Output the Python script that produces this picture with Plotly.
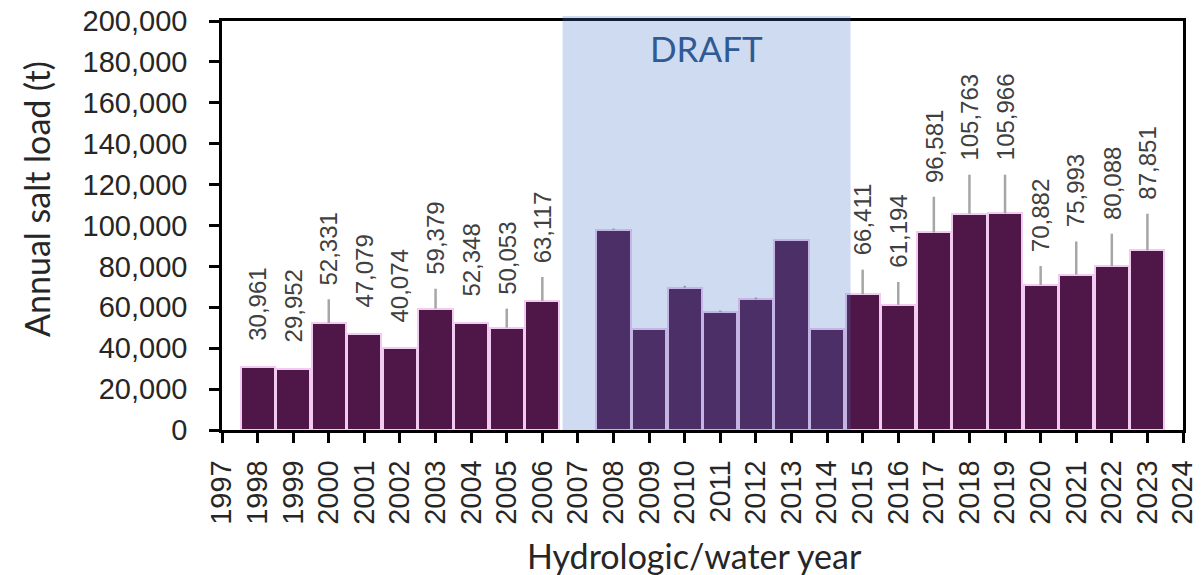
import plotly.graph_objects as go

# ── Data ──────────────────────────────────────────────────────────────────────
years = list(range(1998, 2024))
salt_load = [30961, 29952, 52331, 47079, 40074, 59379, 52348, 50053, 63117, None,
             97900, 49600, 69600, 57600, 63900, 93000, 49600,
             66411, 61194, 96581, 105763, 105966, 70882, 75993, 80088, 87851]
upper_err = [0, 0, 11600, 0, 0, 9700, 0, 9300, 11700, 0,
             600, 0, 900, 800, 900, 0, 0,
             12000, 11200, 17500, 19100, 18900, 9300, 16200, 15900, 17900]
draft_years = list(range(2007, 2015))
x_ticks = list(range(1997, 2025))

BAR = "#4F1747"
EDGE = "#F2CCF0"
TICK_FONT = dict(family="Liberation Sans, Arial", size=29, color="#262626")
TITLE_FONT = dict(family="Lato, Open Sans", size=34, color="#262626")

fig = go.Figure(go.Bar(
    x=years,
    y=salt_load,
    width=0.96,
    marker=dict(color=BAR, line=dict(color=EDGE, width=2)),
    error_y=dict(type="data", symmetric=False, array=upper_err,
                 arrayminus=[0] * len(years), color="#A6A6A6",
                 thickness=2.5, width=0),
    hoverinfo="x+y",
))

# value labels above bars (not for draft years)
for yr, v, e in zip(years, salt_load, upper_err):
    if v is None or yr in draft_years:
        continue
    fig.add_annotation(
        x=yr, y=v + e, text=f"{v:,}", textangle=-90,
        showarrow=False, yanchor="bottom", yshift=12 if e else 24,
        font=dict(family="Liberation Sans, Arial", size=24, color="#404040"),
    )

# draft overlay
x0, x1 = draft_years[0] - 0.43, draft_years[-1] + 0.66
fig.add_shape(
    type="rect", xref="x", yref="paper",
    x0=x0, x1=x1, y0=0, y1=1.012,
    fillcolor="rgba(68,114,196,0.26)", line_width=0, layer="above",
)
fig.add_annotation(
    x=(x0 + x1) / 2, xref="x", y=0.934, yref="paper", yanchor="middle",
    text="DRAFT", showarrow=False,
    font=dict(family="Lato, Open Sans", size=35, color="#2F5A94"),
)

# axis titles
fig.add_annotation(
    x=-0.1925, xref="paper", y=0.565, yref="paper", text="Annual salt load (t)",
    textangle=-90, showarrow=False, xanchor="center", yanchor="middle",
    font=TITLE_FONT,
)
fig.add_annotation(
    x=0.492, xref="paper", y=-0.306, yref="paper", text="Hydrologic/water year",
    showarrow=False, xanchor="center", yanchor="middle", font=TITLE_FONT,
)

fig.update_layout(
    width=1201, height=575,
    margin=dict(l=222, r=18, t=21, b=145),
    paper_bgcolor="#FFFFFF", plot_bgcolor="#FFFFFF",
    showlegend=False,
    bargap=0,
    xaxis=dict(
        range=[1997, 2024], tickvals=x_ticks, ticktext=[str(t) for t in x_ticks],
        tickangle=-90, tickfont=TICK_FONT, automargin=False,
        ticklabeloverflow="allow", ticklabelstandoff=6,
        ticks="outside", ticklen=10, tickwidth=2.5, tickcolor="black",
        showline=True, linecolor="black", linewidth=2.5, mirror=True,
        showgrid=False, zeroline=False,
    ),
    yaxis=dict(
        range=[0, 200000], dtick=20000, tickformat=",", tickfont=TICK_FONT,
        automargin=False, ticklabeloverflow="allow", ticklabelstandoff=16,
        ticks="outside", ticklen=10, tickwidth=2.5, tickcolor="black",
        showline=True, linecolor="black", linewidth=2.5, mirror=True,
        showgrid=False, zeroline=False,
    ),
)

# drop the page's default body margin so the figure sits at the window origin
fig.write_html("out.html", config={"displayModeBar": False},
               post_script="document.body.style.margin='0';")
